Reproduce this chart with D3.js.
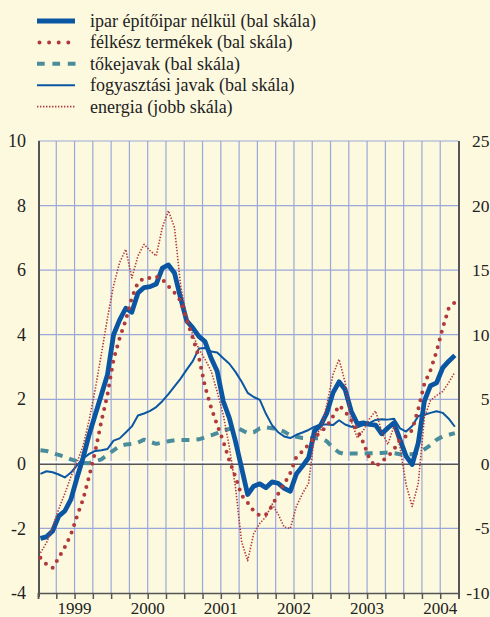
<!DOCTYPE html>
<html><head><meta charset="utf-8">
<script src="https://cdn.jsdelivr.net/npm/d3@7/dist/d3.min.js"></script>
<style>
html,body{margin:0;padding:0;background:#fdf9df;}
svg{display:block;}
</style></head><body>
<svg id="chart" width="490" height="617" font-family="'Liberation Serif', 'Times New Roman', 'DejaVu Serif', serif"></svg>
<script>
// Monthly series, January 1999 – September 2004 (69 months)
const yearLabels = ["1999", "2000", "2001", "2002", "2003", "2004"];
const leftTicks = [-4, -2, 0, 2, 4, 6, 8, 10];
const rightTicks = [-10, -5, 0, 5, 10, 15, 20, 25];

// ipar építőipar nélkül (bal skála)
const ipar = [-2.31, -2.26, -2.08, -1.62, -1.46, -1.10, -0.43, 0.19, 0.91, 1.53, 2.14, 2.76,
  4.00, 4.46, 4.82, 4.70, 5.29, 5.46, 5.49, 5.57, 6.06, 6.16, 5.91, 5.13,
  4.43, 4.21, 3.95, 3.79, 3.28, 2.87, 1.94, 1.42, 0.70, -0.12, -0.95, -0.69,
  -0.62, -0.74, -0.56, -0.60, -0.76, -0.85, -0.31, -0.07, 0.19, 1.03, 1.20, 1.58,
  2.20, 2.54, 2.30, 1.63, 1.24, 1.27, 1.22, 1.20, 0.93, 1.11, 1.27, 0.75,
  0.24, -0.02, 0.65, 1.94, 2.42, 2.51, 2.97, 3.18, 3.36];

// félkész termékek (bal skála)
const felkesz = [-2.91, -3.11, -3.22, -2.91, -2.58, -2.19, -1.62, -1.10, -0.38, 0.39, 1.32, 2.14,
  3.23, 3.90, 4.45, 5.15, 5.62, 5.75, 5.76, 5.80, 5.72, 5.50, 5.30, 5.05,
  4.45, 3.90, 3.30, 2.40, 1.75, 1.20, 0.70, 0.10, -0.40, -0.97, -1.20, -1.46,
  -1.60, -1.57, -1.31, -0.93, -0.62, -0.28, 0.22, 0.39, 0.60, 0.82, 0.99, 1.16,
  1.47, 1.81, 1.62, 1.35, 1.05, 0.65, 0.15, -0.09, 0.08, 0.22, 0.44, 0.75,
  0.86, 1.05, 1.70, 2.48, 2.90, 3.48, 4.20, 4.82, 5.00];

// tőkejavak (bal skála)
const tokejavak = [0.42, 0.40, 0.33, 0.28, 0.22, 0.14, 0.08, 0.03, 0.02, 0.08, 0.14, 0.28,
  0.42, 0.55, 0.60, 0.62, 0.66, 0.75, 0.68, 0.62, 0.66, 0.70, 0.73, 0.74,
  0.74, 0.74, 0.76, 0.82, 0.88, 0.95, 1.04, 1.08, 1.12, 1.05, 0.95, 0.98,
  1.10, 1.13, 1.10, 1.07, 1.00, 0.88, 0.84, 0.80, 0.79, 0.79, 0.79, 0.70,
  0.50, 0.35, 0.30, 0.32, 0.32, 0.32, 0.33, 0.33, 0.34, 0.35, 0.33, 0.30,
  0.29, 0.30, 0.34, 0.45, 0.58, 0.75, 0.85, 0.90, 0.95];

// fogyasztási javak (bal skála)
const fogyasztasi = [-0.31, -0.23, -0.26, -0.33, -0.42, -0.27, -0.05, 0.17, 0.31, 0.40, 0.42, 0.46,
  0.72, 0.79, 0.97, 1.16, 1.50, 1.56, 1.64, 1.76, 1.94, 2.16, 2.40, 2.64,
  2.92, 3.18, 3.57, 3.59, 3.48, 3.45, 3.27, 3.10, 2.85, 2.55, 2.20, 2.07,
  1.98, 1.55, 1.20, 0.98, 0.85, 0.80, 0.90, 0.97, 1.05, 1.15, 1.22, 1.22,
  1.20, 1.35, 1.22, 1.15, 1.13, 1.20, 1.27, 1.36, 1.38, 1.37, 1.40, 1.10,
  1.00, 1.17, 1.48, 1.52, 1.58, 1.63, 1.58, 1.40, 1.15];

// energia (jobb skála)
const energia = [-6.9, -6.1, -4.9, -3.5, -2.3, -1.0, 0.1, 1.4, 3.4, 5.8, 8.5, 11.3,
  13.8, 15.6, 16.6, 14.4, 16.1, 17.0, 16.5, 16.1, 18.3, 19.6, 18.3, 13.8,
  11.3, 10.0, 8.9, 8.1, 7.2, 5.6, 3.8, 1.3, -1.8, -6.0, -7.5, -5.4,
  -4.6, -4.1, -3.1, -3.9, -4.9, -5.0, -3.3, -2.3, -1.5, 2.3, 2.6, 4.6,
  6.9, 8.1, 6.3, 3.3, 2.0, 2.6, 3.5, 4.1, 2.5, 1.5, 2.9, 1.3,
  -1.6, -3.3, -1.5, 3.6, 4.9, 5.3, 5.6, 6.3, 7.1];

const colors = {
  bg: "#fdf9df", blue: "#0b56a2", red: "#b0393b", teal: "#4a8c9c",
  grid: "#9ba7d9", axis: "#555555", text: "#222222"
};
const serif = "'Liberation Serif', 'Times New Roman', 'DejaVu Serif', serif";

const svg = d3.select("#chart");
const plot = {left: 38, right: 458.5, top: 141, bottom: 593};
const nMonths = 69;
const pointOffset = 0.4;

const x = d3.scaleLinear().domain([0, nMonths]).range([plot.left, plot.right]);
const yL = d3.scaleLinear().domain([-4, 10]).range([plot.bottom, plot.top]);
const yR = d3.scaleLinear().domain([-10, 25]).range([plot.bottom, plot.top]);

svg.append("rect").attr("width", 490).attr("height", 617).attr("fill", colors.bg);

// grid
const quarters = d3.range(3, nMonths, 3);
svg.append("g").selectAll("line").data(quarters).join("line")
  .attr("x1", d => x(d)).attr("x2", d => x(d))
  .attr("y1", plot.top).attr("y2", plot.bottom)
  .attr("stroke", colors.grid).attr("stroke-width", 1.2);
svg.append("g").selectAll("line").data(leftTicks.filter(v => v !== -4 && v !== 0)).join("line")
  .attr("x1", plot.left).attr("x2", plot.right)
  .attr("y1", d => yL(d)).attr("y2", d => yL(d))
  .attr("stroke", colors.grid).attr("stroke-width", 1.2);

// zero line
svg.append("line").attr("x1", plot.left).attr("x2", plot.right)
  .attr("y1", yL(0) - 1.6).attr("y2", yL(0) - 1.6)
  .attr("stroke", "#ffffff").attr("stroke-width", 2);
svg.append("line").attr("x1", plot.left).attr("x2", plot.right)
  .attr("y1", yL(0) + 0.4).attr("y2", yL(0) + 0.4)
  .attr("stroke", colors.axis).attr("stroke-width", 1.3);

// axes frame
svg.append("line").attr("x1", plot.left + 1).attr("x2", plot.left + 1)
  .attr("y1", plot.top).attr("y2", plot.bottom + 4)
  .attr("stroke", colors.axis).attr("stroke-width", 2);
svg.append("line").attr("x1", plot.right + 0.5).attr("x2", plot.right + 0.5)
  .attr("y1", plot.top).attr("y2", plot.bottom + 4)
  .attr("stroke", colors.axis).attr("stroke-width", 2);

const xAxis = d3.axisBottom(x).tickValues(d3.range(0, nMonths + 1, 3)).tickSize(6).tickFormat("");
const gx = svg.append("g").attr("transform", `translate(0,${plot.bottom})`).call(xAxis);
gx.select(".domain").attr("stroke", colors.axis).attr("stroke-width", 1.5);
gx.selectAll(".tick line").attr("stroke", colors.axis).attr("stroke-width", 1.5);

// year labels
svg.append("g").selectAll("text").data(yearLabels).join("text")
  .attr("x", (d, i) => x(i * 12 + 6)).attr("y", 613.5)
  .attr("text-anchor", "middle").attr("font-size", 17)
  .attr("font-family", serif).attr("fill", colors.text).text(d => d);

// left labels
svg.append("g").selectAll("text").data(leftTicks).join("text")
  .attr("x", 26).attr("y", d => yL(d)).attr("dy", "0.34em")
  .attr("text-anchor", "end").attr("font-size", 18)
  .attr("font-family", serif).attr("fill", colors.text).text(d => d);

// right labels
svg.append("g").selectAll("text").data(rightTicks).join("text")
  .attr("x", 489.5).attr("y", d => yR(d)).attr("dy", "0.34em")
  .attr("text-anchor", "end").attr("font-size", 17.5)
  .attr("font-family", serif).attr("fill", colors.text).text(d => d);

// series
const lineL = d3.line().x((d, i) => x(i + pointOffset)).y(d => yL(d));
const lineR = d3.line().x((d, i) => x(i + pointOffset)).y(d => yR(d));

const series = [
  {name: "tőkejavak (bal skála)", data: tokejavak, gen: lineL, stroke: colors.teal, width: 4, dash: "8 7", cap: "butt"},
  {name: "fogyasztási javak (bal skála)", data: fogyasztasi, gen: lineL, stroke: colors.blue, width: 2, dash: null, cap: "butt"},
  {name: "ipar építőipar nélkül (bal skála)", data: ipar, gen: lineL, stroke: colors.blue, width: 4.8, dash: null, cap: "butt"},
  {name: "félkész termékek (bal skála)", data: felkesz, gen: lineL, stroke: colors.red, width: 4, dash: "0 8", cap: "round"},
  {name: "energia (jobb skála)", data: energia, gen: lineR, stroke: colors.red, width: 1.6, dash: "1.4 1.6", cap: "butt"}
];

svg.append("g").selectAll("path").data(series).join("path")
  .attr("d", s => s.gen(s.data))
  .attr("fill", "none")
  .attr("stroke", s => s.stroke)
  .attr("stroke-width", s => s.width)
  .attr("stroke-dasharray", s => s.dash)
  .attr("stroke-linecap", s => s.cap)
  .attr("stroke-linejoin", "round");

// legend
const legendOrder = [2, 3, 0, 1, 4].map(i => series[i]);
const legend = svg.append("g").selectAll("g").data(legendOrder).join("g")
  .attr("transform", (d, i) => `translate(0,${21 + i * 21.4})`);
legend.append("line")
  .attr("x1", d => d.cap === "round" ? 39.5 : 37).attr("x2", d => d.dash === "8 7" ? 75.5 : 75)
  .attr("y1", 0).attr("y2", 0)
  .attr("stroke", d => d.stroke)
  .attr("stroke-width", d => d.width)
  .attr("stroke-dasharray", d => d.cap === "round" ? "0 9.6" : (d.dash === "8 7" ? "7.7 7.7" : d.dash))
  .attr("stroke-linecap", d => d.cap);
legend.append("text").attr("x", 90).attr("y", 6).attr("font-size", 18)
  .attr("font-family", serif).attr("fill", colors.text).text(d => d.name);
</script>
</body></html>
